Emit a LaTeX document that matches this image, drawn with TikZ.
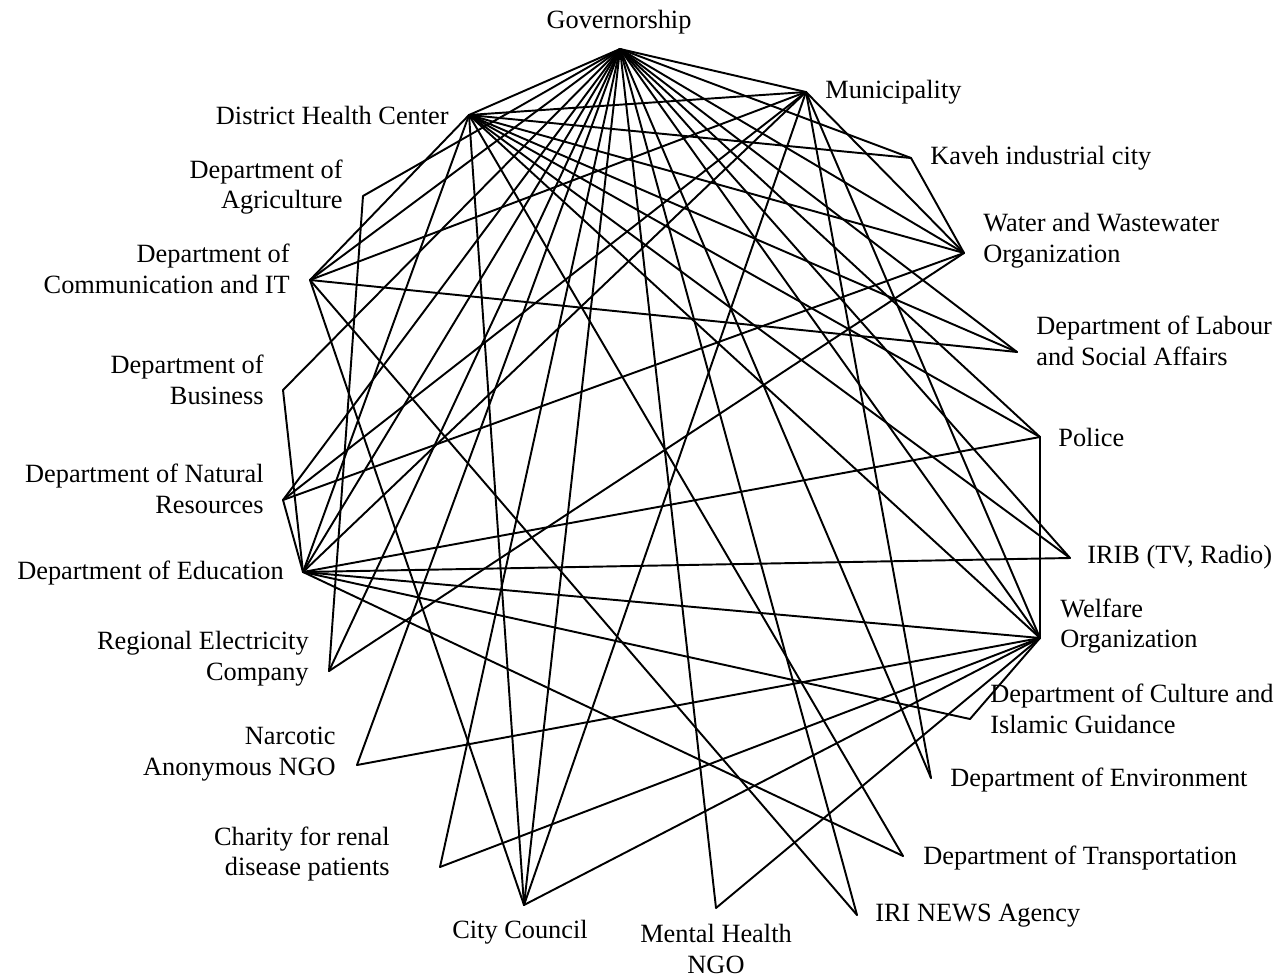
\documentclass[tikz,border=0pt]{standalone}
\usepackage{fontspec}
\setmainfont{Liberation Serif}
\begin{document}
\begin{tikzpicture}[x=0.02cm,y=-0.02cm,
  lbl/.style={font=\fontsize{15}{17.5}\selectfont, inner sep=0pt},
  edge/.style={line width=1.1pt, line cap=round, line join=round}]
\useasboundingbox (0,0) rectangle (1281,977);
% vertices
\coordinate (gov) at (620,49);
\coordinate (mun) at (806,92);
\coordinate (dhc) at (469,115);
\coordinate (kav) at (911,158);
\coordinate (agr) at (363,196);
\coordinate (wat) at (964,253);
\coordinate (cit) at (310,280);
\coordinate (lab) at (1017,352);
\coordinate (bus) at (283,390);
\coordinate (pol) at (1040,437);
\coordinate (nat) at (283,500);
\coordinate (edu) at (303,572);
\coordinate (irib) at (1070,558);
\coordinate (wel) at (1040,638);
\coordinate (reg) at (329,671);
\coordinate (cul) at (970,719);
\coordinate (nar) at (357,765);
\coordinate (env) at (931,778);
\coordinate (cha) at (440,867);
\coordinate (tra) at (903,856);
\coordinate (cc) at (524,905);
\coordinate (mh) at (716,908);
\coordinate (news) at (857,915);
% edges
\foreach \a/\b in {gov/mun,gov/dhc,gov/kav,gov/agr,gov/wat,gov/cit,gov/lab,gov/bus,gov/pol,gov/nat,gov/edu,gov/irib,gov/wel,gov/reg,gov/nar,gov/env,gov/cha,gov/cc,gov/mh,gov/news,
  dhc/mun,dhc/kav,dhc/wat,dhc/lab,dhc/pol,dhc/irib,dhc/wel,dhc/tra,dhc/cc,dhc/cit,dhc/edu,
  mun/wat,mun/wel,mun/env,mun/cc,mun/nat,mun/cit,mun/edu,
  wat/kav,wat/nat,wat/reg,
  cit/lab,cit/cc,cit/news,
  edu/bus,edu/nat,edu/pol,edu/irib,edu/wel,edu/cul,edu/tra,
  wel/pol,wel/nar,wel/cha,wel/cc,wel/mh,wel/cul,
  agr/reg}
  \draw[edge] (\a) -- (\b);
% labels
\node[lbl, anchor=center] (tgov) at (619,22) {Governorship};
\node[lbl, anchor=west] (tmun) at (825,92) {Municipality};
\node[lbl, anchor=east] (tdhc) at (449,115) {District Health Center};
\node[lbl, anchor=west] (tkav) at (930,158) {Kaveh industrial city};
\node[lbl, anchor=east, align=right] (tagr) at (343,187) {Department of\\Agriculture};
\node[lbl, anchor=west, align=left] (twat) at (983,241) {Water and Wastewater\\Organization};
\node[lbl, anchor=east, align=right] (tcit) at (290,269) {Department of\\Communication and IT};
\node[lbl, anchor=west, align=left] (tlab) at (1036,341) {Department of Labour\\and Social Affairs};
\node[lbl, anchor=east, align=right] (tbus) at (264,380) {Department of\\Business};
\node[lbl, anchor=west] (tpol) at (1058,437) {Police};
\node[lbl, anchor=east, align=right] (tnat) at (264,489) {Department of Natural\\Resources};
\node[lbl, anchor=east] (tedu) at (284,573) {Department of Education};
\node[lbl, anchor=west] (tirib) at (1087,557) {IRIB (TV, Radio)};
\node[lbl, anchor=west, align=left] (twel) at (1060,626) {Welfare\\Organization};
\node[lbl, anchor=east, align=right] (treg) at (309,659) {Regional Electricity\\Company};
\node[lbl, anchor=west, align=left] (tcul) at (990,709) {Department of Culture and\\Islamic Guidance};
\node[lbl, anchor=east, align=right] (tnar) at (336,754) {Narcotic\\Anonymous NGO};
\node[lbl, anchor=west] (tenv) at (950,780) {Department of Environment};
\node[lbl, anchor=east, align=right] (tcha) at (390,854) {Charity for renal\\disease patients};
\node[lbl, anchor=west] (ttra) at (923,858) {Department of Transportation};
\node[lbl, anchor=center] (tcc) at (520,932) {City Council};
\node[lbl, anchor=center, align=center] (tmh) at (716,949) {Mental Health\\NGO};
\node[lbl, anchor=west] (tnews) at (875,916) {IRI NEWS Agency};
\end{tikzpicture}
\end{document}
